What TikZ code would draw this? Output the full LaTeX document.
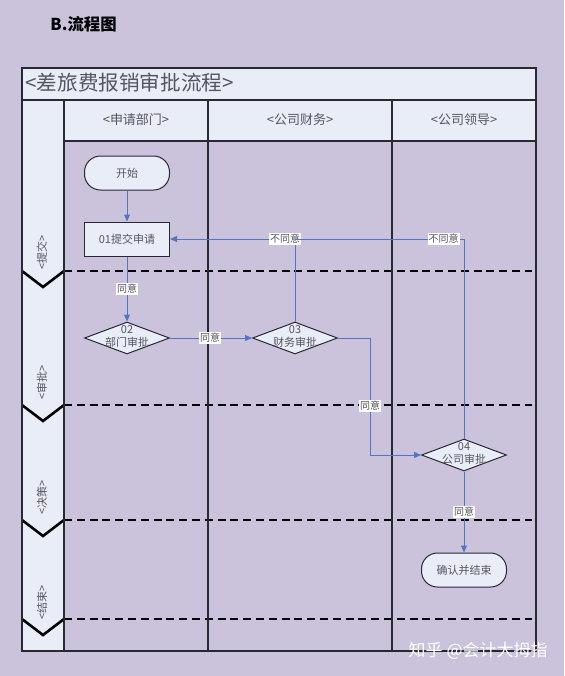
\documentclass[tikz,border=0pt]{standalone}
\usepackage{fontspec}
\setmainfont{Liberation Serif}
\newfontfamily\cjk{Noto Sans CJK SC}
\usetikzlibrary{arrows.meta,shapes.geometric}
\definecolor{bgpurple}{RGB}{203,195,220}
\definecolor{paleblue}{RGB}{233,237,247}
\definecolor{flowblue}{RGB}{82,118,194}
\definecolor{framegray}{RGB}{40,40,48}
\definecolor{textgray}{RGB}{85,85,95}

\begin{document}
\begin{tikzpicture}[x=0.5pt,y=-0.5pt,
    frame/.style={line width=0.65pt,draw=framegray},
    sepline/.style={line width=1.2pt,dash pattern=on 4pt off 2.4pt},
    chevron/.style={line width=1.3pt,line join=miter},
    flow/.style={draw=flowblue,line width=0.5pt,-{Triangle[length=3.5pt,width=3pt]}},
    joinline/.style={draw=flowblue,line width=0.5pt},
    cond/.style={fill=white,inner sep=0.6pt,text=textgray,font=\cjk\fontsize{5}{5}\selectfont},
    task/.style={draw=framegray,fill=paleblue,line width=0.5pt,minimum width=42.5pt,minimum height=17pt,inner sep=0pt,text=textgray,font=\cjk\fontsize{5.5}{6}\selectfont},
    term/.style={task,rounded corners=8pt},
    check/.style={task,diamond,aspect=2.6,minimum height=16pt},
    stage/.style={rotate=90,text=textgray,font=\cjk\fontsize{5.5}{6}\selectfont},
    lanehead/.style={text=textgray,font=\cjk\fontsize{6.5}{7}\selectfont}]
    \useasboundingbox (0,0) rectangle (564,676);
    \fill[bgpurple] (0,0) rectangle (564,676);
    % table background
    \fill[paleblue] (22,68) rectangle (536,141);
    \fill[paleblue] (22,141) rectangle (64,651);
    % stage separators
    \foreach \y in {271,405,520,619} {
        \draw[sepline] (64,\y) -- (532,\y);
        \draw[chevron] (22,\y) -- (43,\y+16) -- (64,\y);
    }
    % frame and lanes
    \draw[frame] (22,68) rectangle (536,651);
    \draw[frame] (22,100) -- (536,100);
    \draw[frame] (64,141) -- (536,141);
    \draw[frame] (64,100) -- (64,651);
    \draw[frame] (208,100) -- (208,651);
    \draw[frame] (392,100) -- (392,651);
    % titles
    \node[anchor=west,inner sep=0pt,font=\cjk\bfseries\fontsize{8.2}{9}\selectfont] (pagetitle) at (50,24) {B.流程图};
    \node[anchor=west,inner sep=0pt,text=textgray,font=\cjk\fontsize{10.3}{11}\selectfont] (charttitle) at (25,83) {<差旅费报销审批流程>};
    \node[lanehead] (applyhead) at (136,120) {<申请部门>};
    \node[lanehead] (financehead) at (300,120) {<公司财务>};
    \node[lanehead] (leaderhead) at (464,120) {<公司领导>};
    \node[stage] (submitstage) at (42,252) {<提交>};
    \node[stage] (reviewstage) at (42,382) {<审批>};
    \node[stage] (decidestage) at (42,497) {<决策>};
    \node[stage] (endstage) at (42,602) {<结束>};
    % flow nodes
    \node[term] (start) at (127,173) {开始};
    \node[task] (submit) at (127,239) {01提交申请};
    \node[check] (dept) at (127,338) {\makebox[0pt]{\begin{tabular}{@{}c@{}}02\\部门审批\end{tabular}}};
    \node[check] (fin) at (295,338) {\makebox[0pt]{\begin{tabular}{@{}c@{}}03\\财务审批\end{tabular}}};
    \node[check] (lead) at (464,455) {\makebox[0pt]{\begin{tabular}{@{}c@{}}04\\公司审批\end{tabular}}};
    \node[term] (finish) at (464,570) {确认并结束};
    % connectors
    \draw[flow] (start) -- (submit);
    \draw[flow] (submit) -- node[cond]{同意} (dept);
    \draw[flow] (dept) -- node[cond,pos=0.49]{同意} (fin);
    \draw[flow] (fin.east) -- ++(32,0) |- node[cond,pos=0.29]{同意} (lead.west);
    \coordinate (meet) at (fin.north |- submit.east);
    \draw[flow] (fin.north) |- node[cond,pos=0.54]{不同意} (submit.east);
    \draw[joinline] (lead.north) |- node[cond,pos=0.56]{不同意} (meet);
    \draw[flow] (lead) -- node[cond]{同意} (finish);
    \node[anchor=east,inner sep=0pt,text=white,font=\cjk\fontsize{8.5}{9}\selectfont] (mark) at (548,651) {知乎 @会计大拇指};
\end{tikzpicture}
\end{document}
